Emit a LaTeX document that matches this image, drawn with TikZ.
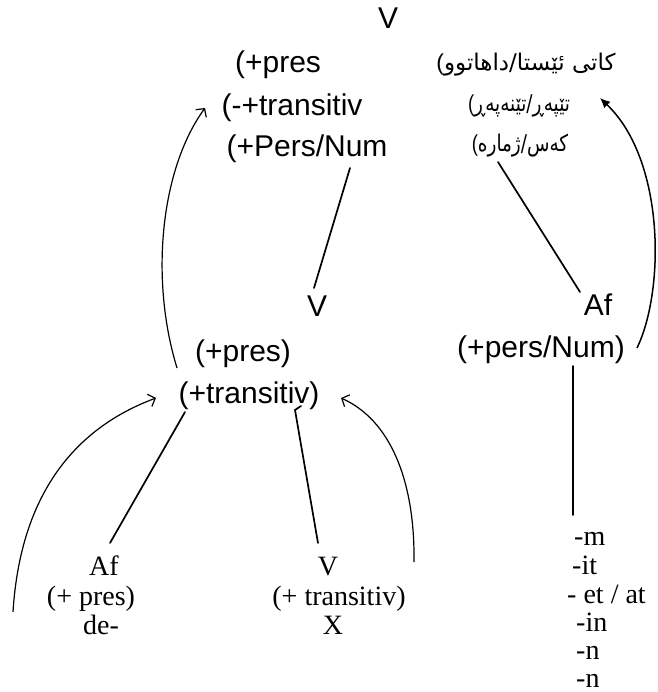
\documentclass[tikz,border=0pt]{standalone}
\usepackage{fontspec}
\usepackage{graphicx}
\usetikzlibrary{arrows.meta}
\newfontfamily\arialf{Liberation Sans}
\newfontfamily\timesf{Liberation Serif}
\newfontfamily\kurdf[Script=Arabic]{DejaVu Sans}
\TeXXeTstate=1
\newcommand{\lpar}[1]{\hbox{\arialf(}\hbox{\beginR #1\endR}}
\begin{document}
\begin{tikzpicture}[x=1pt,y=-1pt,
  sans/.style={font=\arialf\fontsize{30}{34}\selectfont, inner sep=0pt},
  serif/.style={font=\timesf\fontsize{28}{30}\selectfont, inner sep=0pt, anchor=base},
  kurd/.style={font=\kurdf\fontsize{23}{26}\selectfont, inner sep=0pt},
  ln/.style={line width=1.7pt, line cap=round},
  arr/.style={line width=1.2pt, -{Straight Barb[length=6pt,width=13pt,line width=1.2pt]}},
  arrf/.style={line width=1.5pt, -{Latex[length=10pt,width=9pt]}}]
\useasboundingbox (0,0) rectangle (657,692);
% top level
\node[sans] (vtop) at (388,18) {V};
\node[sans] (p1) at (278,65) {(+pres};
\node[sans] (p2) at (292,108) {(-+transitiv};
\node[sans] (p3) at (307,149) {(+Pers/Num};
\node[kurd] (k1) at (526,65) {\lpar{کاتی ئێستا/داهاتوو}};
\node[kurd] (k2) at (519,106) {\scalebox{0.8}[1]{\lpar{تێپەڕ/تێنەپەڕ}}};
\node[kurd] (k3) at (520,146) {\scalebox{0.8}[1]{\lpar{کەس/ژمارە}}};
% middle level
\node[sans] (vmid) at (317,306) {V};
\node[sans] (m1) at (243,354) {(+pres)};
\node[sans] (m2) at (249,396) {(+transitiv)};
\node[sans] (afr) at (598,305) {Af};
\node[sans] (pn) at (541,350) {(+pers/Num)};
% bottom left
\node[serif] (afl) at (104,575) {Af};
\node[serif] (bl2) at (91,605) {(+ pres)};
\node[serif] (bl3) at (101,634) {de-};
% bottom middle
\node[serif] (vb) at (328,575) {V};
\node[serif] (bm2) at (339,605) {(+ transitiv)};
\node[serif] (bm3) at (333,634) {X};
% right column
\node[serif,anchor=base west] (r1) at (574,545) {-m};
\node[serif,anchor=base west] (r2) at (572,574) {-it};
\node[serif,anchor=base west] (r3) at (567,603) {- et / at};
\node[serif,anchor=base west] (r4) at (576,631) {-in};
\node[serif,anchor=base west] (r5) at (576,659) {-n};
\node[serif,anchor=base west] (r6) at (576,687) {-n};
% coordinates for connector ends
\coordinate (a1) at (350,168);
\coordinate (a2) at (314,288);
\coordinate (b1) at (498,162);
\coordinate (b2) at (580,292);
\coordinate (c1) at (573,366);
\coordinate (c2) at (573,515);
\coordinate (d1) at (110,543);
\coordinate (d2) at (185,412);
\coordinate (e1) at (318,543);
\coordinate (e2) at (295,410);
\coordinate (e3) at (301,406);
% straight connectors
\draw[ln] (a1) -- (a2);
\draw[ln] (b1) -- (b2);
\draw[ln] (c1) -- (c2);
\draw[ln] (d1) -- (d2);
\draw[ln] (e1) -- (e2) -- (e3);
% curved arrows
\coordinate (s1) at (177,368);
\coordinate (t1) at (205,108);
\draw[arr] (s1) .. controls (150,280) and (160,170) .. (t1);
\coordinate (s2) at (637,348);
\coordinate (t2) at (600,98);
\draw[arrf] (s2) .. controls (665,290) and (665,160) .. (t2);
\coordinate (s3) at (13,612);
\coordinate (t3) at (156,398);
\draw[arr] (s3) .. controls (20,500) and (70,430) .. (t3);
\coordinate (s4) at (414,562);
\coordinate (t4) at (341,398);
\draw[arr] (s4) .. controls (415,480) and (390,420) .. (t4);
\end{tikzpicture}
\end{document}
